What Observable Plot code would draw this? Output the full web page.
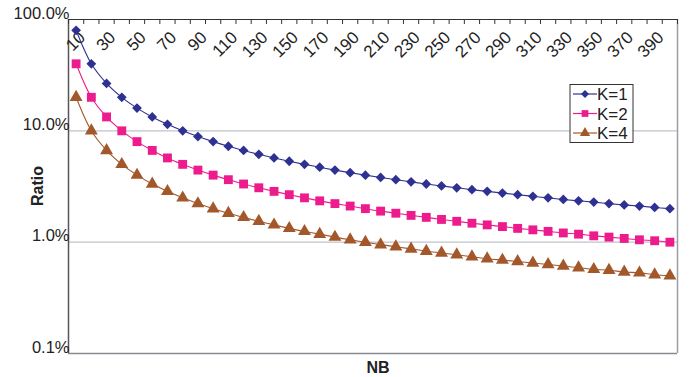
<!DOCTYPE html>
<html>
<head>
<meta charset="utf-8">
<script src="https://cdn.jsdelivr.net/npm/d3@7"></script>
<script src="https://cdn.jsdelivr.net/npm/@observablehq/plot@0.6"></script>
<style>
  html, body { margin: 0; padding: 0; background: #fff; }
  #chart { position: relative; width: 695px; height: 377px; }
  svg { font-family: "Liberation Sans", Arial, sans-serif; }
</style>
</head>
<body>
<div id="chart"></div>
<script>
// Categories (NB)
const nb = [10,20,30,40,50,60,70,80,90,100,110,120,130,140,150,160,170,180,190,200,
            210,220,230,240,250,260,270,280,290,300,310,320,330,340,350,360,370,380,390,400];
// Series values (percent)
const k1 = [80,40,26.67,20,16,13.33,11.43,10,8.89,8,7.27,6.67,6.15,5.71,5.33,5,4.71,4.44,4.21,4,
            3.81,3.64,3.48,3.33,3.2,3.08,2.96,2.86,2.76,2.67,2.58,2.5,2.42,2.35,2.29,2.22,2.16,2.11,2.05,2];
const k2 = [40,20,13.33,10,8,6.67,5.71,5,4.44,4,3.64,3.33,3.08,2.86,2.67,2.5,2.35,2.22,2.11,2,
            1.9,1.82,1.74,1.67,1.6,1.54,1.48,1.43,1.38,1.33,1.29,1.25,1.21,1.18,1.14,1.11,1.08,1.05,1.03,1];
const k4 = [20,10,6.67,5,4,3.33,2.86,2.5,2.22,2,1.82,1.67,1.54,1.43,1.33,1.25,1.18,1.11,1.05,1,
            0.95,0.91,0.87,0.83,0.8,0.77,0.74,0.71,0.69,0.67,0.65,0.63,0.61,0.59,0.57,0.56,0.54,0.53,0.51,0.5];
// Tick labels
const xTickLabels = [10,30,50,70,90,110,130,150,170,190,210,230,250,270,290,310,330,350,370,390];
const yTicks = [0.1, 1, 10, 100];
const yTickLabels = ["0.1%", "1.0%", "10.0%", "100.0%"];
const seriesNames = ["K=1", "K=2", "K=4"];
const seriesColors = ["#2e3192", "#ec1c8c", "#a3582b"];
const seriesSymbols = ["diamond2", "square", "triangle"];
const seriesR = [4.4, 5.0, 4.8];

const data = [];
[k1, k2, k4].forEach((vals, s) => vals.forEach((v, i) => data.push({nb: nb[i], v, s: seriesNames[s]})));
const step = nb[1] - nb[0];
const bounds = nb.map(n => n - step / 2).concat([nb[nb.length - 1] + step / 2]);

const W = 695, H = 377, mL = 68, mR = 18, mT = 19, mB = 24;
const innerH = H - mT - mB;

const marks = [
  Plot.ruleY([1, 10], {stroke: "#bfc3cc", strokeWidth: 1.2}),
  Plot.ruleY([0.1], {stroke: "#868a90", strokeWidth: 1.5}),
  Plot.ruleX([bounds[bounds.length - 1]], {stroke: "#9a9ea4", strokeWidth: 1.5}),
  Plot.ruleX([bounds[0]], {stroke: "#555", strokeWidth: 1.5}),
  Plot.ruleY([100], {stroke: "#333", strokeWidth: 1.2}),
  Plot.tickX(bounds, {x: d => d, insetBottom: innerH - 5, stroke: "#333", strokeWidth: 1}),
  Plot.text(xTickLabels, {x: d => d, text: d => String(d), frameAnchor: "top", rotate: -45,
    textAnchor: "end", lineAnchor: "bottom", dx: 10, dy: 19, fontSize: 17, fill: "#222"}),
  Plot.text(yTicks, {y: d => d, text: (d, i) => yTickLabels[i], frameAnchor: "left",
    textAnchor: "end", dx: 1, dy: -6, fontSize: 16.5, fill: "#222"})
];
seriesNames.forEach((name, s) => {
  const sub = data.filter(d => d.s === name);
  marks.push(Plot.line(sub, {x: "nb", y: "v", stroke: seriesColors[s], strokeWidth: 1.1, curve: "catmull-rom"}));
  marks.push(Plot.dot(sub, {x: "nb", y: "v", fill: seriesColors[s], symbol: seriesSymbols[s],
    r: seriesR[s], stroke: "none"}));
});

const plot = Plot.plot({
  width: W, height: H,
  marginLeft: mL, marginRight: mR, marginTop: mT, marginBottom: mB,
  x: {type: "linear", domain: [bounds[0], bounds[bounds.length - 1]], axis: null},
  y: {type: "log", domain: [0.1, 100], axis: null},
  style: {fontFamily: "Liberation Sans, Arial, sans-serif", background: "#fff"},
  marks
});
document.getElementById("chart").appendChild(plot);

// Axis titles and legend
const svg = d3.select(plot);
svg.append("text").attr("x", 378).attr("y", 373).attr("text-anchor", "middle")
  .attr("font-size", 16).attr("font-weight", "bold").attr("fill", "#222").text("NB");
svg.append("text").attr("transform", "translate(43,186) rotate(-90)").attr("text-anchor", "middle")
  .attr("font-size", 16).attr("font-weight", "bold").attr("fill", "#222").text("Ratio");

const lg = svg.append("g");
lg.append("rect").attr("x", 570).attr("y", 84.5).attr("width", 63).attr("height", 58)
  .attr("fill", "#fff").attr("stroke", "#333").attr("stroke-width", 1);
const legR = [3.6, 3.8, 3.8];
seriesNames.forEach((name, s) => {
  const yy = 94 + s * 19.5;
  lg.append("line").attr("x1", 573).attr("x2", 597).attr("y1", yy).attr("y2", yy)
    .attr("stroke", seriesColors[s]).attr("stroke-width", 1.2);
  const sym = {diamond2: d3.symbolDiamond2, square: d3.symbolSquare, triangle: d3.symbolTriangle}[seriesSymbols[s]];
  lg.append("path").attr("transform", `translate(585,${yy})`)
    .attr("d", d3.symbol(sym, Math.PI * legR[s] * legR[s])()).attr("fill", seriesColors[s]);
  lg.append("text").attr("x", 597).attr("y", yy).attr("dy", "0.36em").attr("text-anchor", "start")
    .attr("font-size", 17).attr("fill", "#222").text(name);
});
</script>
</body>
</html>
